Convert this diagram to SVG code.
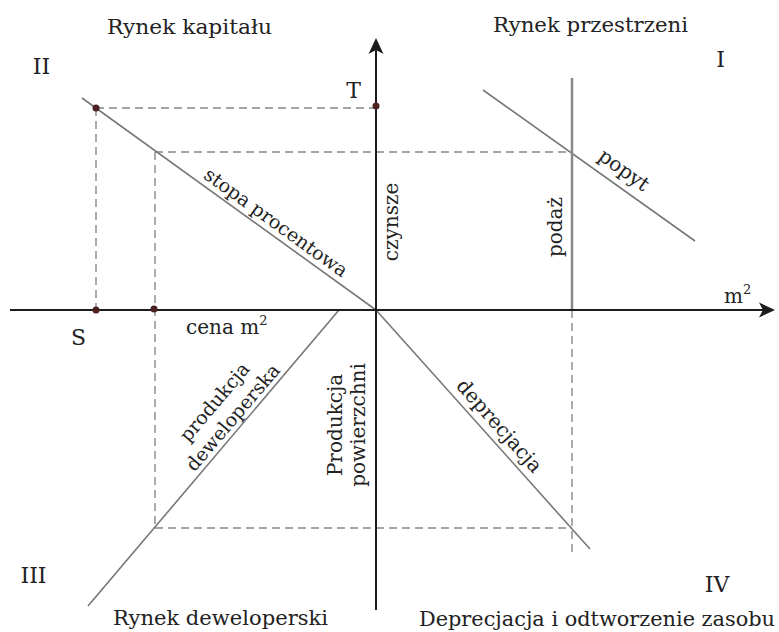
<svg xmlns="http://www.w3.org/2000/svg" width="779" height="632" viewBox="0 0 779 632">
<style>
text{font-family:"DejaVu Serif","Liberation Serif",serif;fill:#222}
.h{font-size:21px}
.n{font-size:22px}
.l{font-size:20px}
.m{text-anchor:middle}
.ax{stroke:#1c1c1c;stroke-width:2;fill:none}
.cv{stroke:#777;stroke-width:1.6;fill:none}
.ds{stroke:#888;stroke-width:1.4;stroke-dasharray:8 5;fill:none}
.dot{fill:#4a2020}
</style>
<rect width="779" height="632" fill="#fff"/>
<g id="connectors">
<g id="guides">
<path class="ds" d="M96,108 H376"/>
<path class="ds" d="M96,108 V310"/>
<path class="ds" d="M155,152 H572"/>
<path class="ds" d="M155,152 V528"/>
<path class="ds" d="M155,528 H572"/>
<path class="ds" d="M572,310 V555"/>
</g>
<g id="curves">
<path class="cv" d="M82,98 L376,310"/>
<path class="cv" d="M483,90 L695,241"/>
<path class="cv" d="M572,78 V310" style="stroke:#888;stroke-width:2.5"/>
<path class="cv" d="M339,310 L88,606"/>
<path class="cv" d="M376,310 L590,549"/>
</g>
<g id="axes">
<path class="ax" d="M10,310 H765"/>
<path d="M775,310 L759,302.5 L763,310 L759,317.5 Z" fill="#1c1c1c"/>
<path class="ax" d="M376,610 V48"/>
<path d="M376,38 L383.5,54 L376,50 L368.5,54 Z" fill="#1c1c1c"/>
</g>
</g>
<g id="points">
<circle class="dot" cx="96" cy="108" r="3.5"/>
<circle class="dot" cx="376" cy="106" r="3.5"/>
<circle class="dot" cx="96" cy="310" r="3.5"/>
<circle class="dot" cx="154" cy="309" r="3.5"/>
</g>
<g id="quadrant-titles">
<text class="h" x="107" y="34" textLength="165" lengthAdjust="spacingAndGlyphs">Rynek kapitału</text>
<text class="h" x="493" y="32" textLength="195" lengthAdjust="spacingAndGlyphs">Rynek przestrzeni</text>
<text class="h" x="113" y="625" textLength="215" lengthAdjust="spacingAndGlyphs">Rynek deweloperski</text>
<text class="h" x="419" y="626" textLength="356" lengthAdjust="spacingAndGlyphs">Deprecjacja i odtworzenie zasobu</text>
</g>
<g id="numerals">
<text class="n m" x="41.5" y="74">II</text>
<text class="n m" x="720.5" y="67">I</text>
<text class="n m" x="33.5" y="583">III</text>
<text class="n m" x="717" y="592">IV</text>
</g>
<g id="axis-labels">
<text class="n m" x="353.5" y="98">T</text>
<text class="n m" x="78.5" y="345">S</text>
<text class="l" x="186" y="334">cena m<tspan font-size="13" dy="-9">2</tspan></text>
<text class="l" x="724" y="303">m<tspan font-size="13" dy="-9">2</tspan></text>
</g>
<g id="curve-labels">
<text class="l m" transform="translate(398,222) rotate(-90)">czynsze</text>
<text class="l m" transform="translate(562.4,227) rotate(-90)">podaż</text>
<text class="l m" transform="translate(341.6,425) rotate(-90)">Produkcja<tspan x="0" y="23.4">powierzchni</tspan></text>
<text class="l m" style="font-size:19px" transform="translate(268.7,232.6) rotate(35.8)" y="-6">stopa procentowa</text>
<text class="l m" transform="translate(614.3,183.5) rotate(35.5)" y="-10">popyt</text>
<text class="l m" transform="translate(488.4,435.6) rotate(48.2)" y="-8">deprecjacja</text>
<text class="l m" style="font-size:19px" transform="translate(241.6,424.9) rotate(-49.7)"><tspan x="0" y="-29">produkcja</tspan><tspan x="0" y="-5">deweloperska</tspan></text>
</g>
</svg>
